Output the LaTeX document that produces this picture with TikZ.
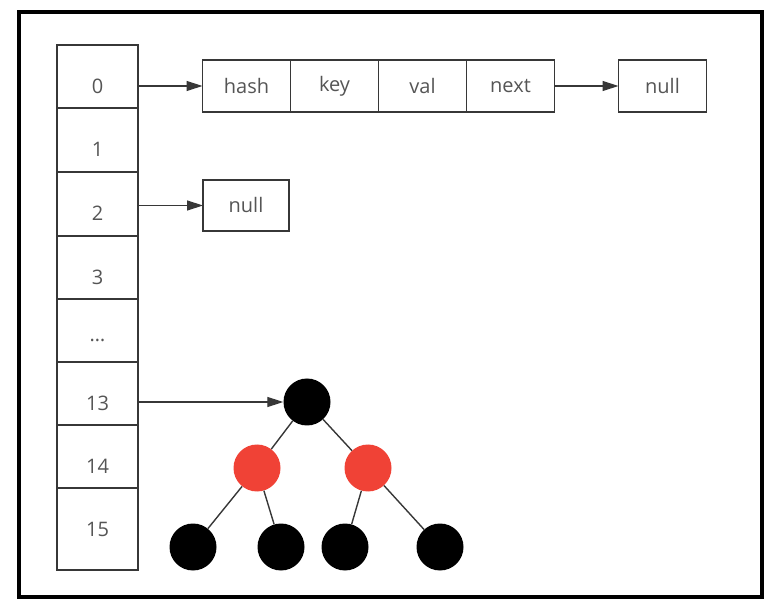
\documentclass[tikz,border=0pt]{standalone}
\usepackage{fontspec}
\setmainfont{Open Sans}
\usepackage{tikz}
\usepackage{xcolor}
\usetikzlibrary{arrows.meta,positioning}
\definecolor{rbred}{RGB}{240,66,54}
\definecolor{boxline}{RGB}{55,55,55}
\definecolor{txtgray}{RGB}{85,85,85}

\begin{document}
\begin{tikzpicture}[x=1pt,y=-1pt,
	cell/.style={draw=boxline,line width=1.2pt,minimum width=81pt,inner sep=0pt,outer sep=0pt},
	idx/.style={font=\fontsize{20}{22}\selectfont,text=txtgray},
	fld/.style={draw=boxline,line width=1.2pt,minimum width=88pt,minimum height=52pt,inner sep=0pt,outer sep=0pt,font=\fontsize{20}{22}\selectfont,text=txtgray},
	ptr/.style={draw=boxline,line width=1.3pt,-{Triangle[length=16pt,width=10pt]}},
	tnode/.style={circle,minimum size=47pt,inner sep=0pt},
	blk/.style={tnode,fill=black},
	rd/.style={tnode,fill=rbred},
	link/.style={draw=boxline,line width=1.4pt}]
	\useasboundingbox (0,0) rectangle (774,609);
	\draw[line width=4pt] (19,12) rectangle (762,597);
	\foreach \n/\top/\h/\t in {0/45/63/0,1/108/64/1,2/172/64/2,3/236/63/3,4/299/63/\ldots,5/362/63/13,6/425/63/14,7/488/82/15}{
		\node[cell,minimum height=\h pt] (a\n) at (97.5,\top+\h/2) {};
		\node[idx] (t\n) at (97.5,\top+41) {\t};
	}
	\node[fld] (hash) at (246.5,86) {hash};
	\node[fld,right=0pt of hash] (key) {key};
	\node[fld,right=0pt of key] (val) {val};
	\node[fld,right=0pt of val] (next) {next};
	\node[fld,right=64pt of next] (null1) {null};
	\node[fld,minimum width=86pt,minimum height=51pt] (null2) at (246,205.5) {null};
	\node[blk] (root) at (307,402) {};
	\node[rd] (l) at (257,468) {};
	\node[rd] (r) at (368,468) {};
	\node[blk] (ll) at (193,547) {};
	\node[blk] (lr) at (281,547) {};
	\node[blk] (rl) at (345,547) {};
	\node[blk] (rr) at (440,547) {};
	\draw[link] (root) -- (l) (root) -- (r) (l) -- (ll) (l) -- (lr) (r) -- (rl) (r) -- (rr);
	\draw[ptr] (a0.east |- hash.west) -- (hash.west);
	\draw[ptr] (next) -- (null1);
	\draw[ptr] (a2.east |- null2.west) -- (null2.west);
	\draw[ptr] (a5.east |- root.west) -- (root.west);
\end{tikzpicture}
\end{document}
